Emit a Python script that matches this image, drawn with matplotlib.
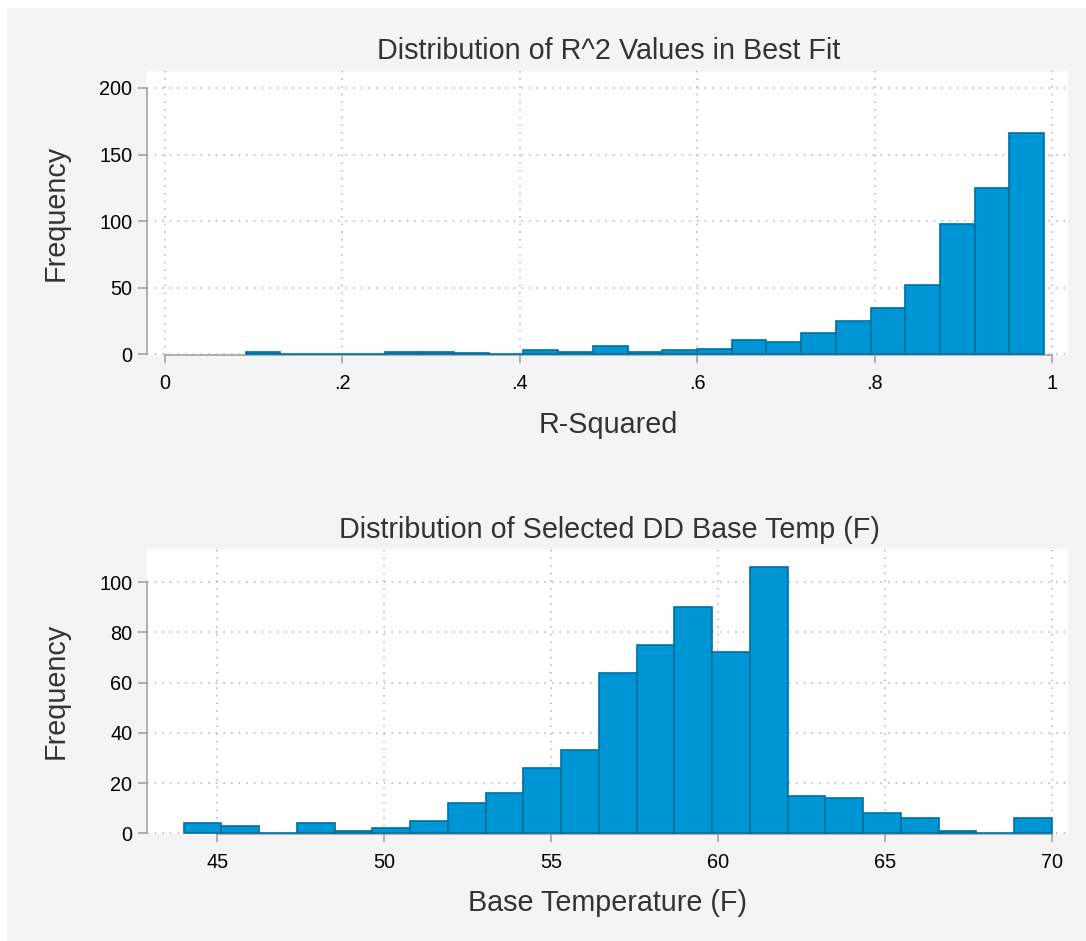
import numpy as np
import matplotlib
matplotlib.use("Agg")
from matplotlib import pyplot as plt
from matplotlib.patches import Rectangle

# R-squared histogram: 23 bins between min and max of the data
r2_min, r2_max = 0.091, 0.991
r2_counts = [2, 0, 0, 0, 2, 2, 1, 0, 3, 2, 6, 2, 3, 4, 11, 9, 16, 25, 35, 52, 98, 125, 166]
r2_ticks = [0, 0.2, 0.4, 0.6, 0.8, 1.0]
r2_ticklabels = ["0", ".2", ".4", ".6", ".8", "1"]
r2_yticks = [0, 50, 100, 150, 200]

# base temperature histogram: 23 bins from 44 to 70
bt_min, bt_max = 44, 70
bt_counts = [4, 3, 0, 4, 1, 2, 5, 12, 16, 26, 33, 64, 75, 90, 72, 106, 15, 14, 8, 6, 1, 0, 6]
bt_ticks = [45, 50, 55, 60, 65, 70]
bt_yticks = [0, 20, 40, 60, 80, 100]

W, H = 1086, 941
BAR = "#0096d6"
EDGE = "#006f9e"
AXIS = "#a3a3a3"
TXT = "#333333"
FS = 20.7

plt.rcParams["font.family"] = ["Liberation Sans", "DejaVu Sans"]

fig = plt.figure(figsize=(W / 100, H / 100), dpi=100, facecolor="white")
fig.patches.append(Rectangle((7 / W, 0), 1, 1 - 8 / H, transform=fig.transFigure,
                             facecolor="#f4f4f4", edgecolor="none", zorder=-10))


def px(x, y):
    return x / W, 1 - y / H


def hist_panel(top, bottom, vmin, vmax, counts, xticks, xlabels, yticks, xlim, ylim):
    ax = fig.add_axes([147 / W, 1 - bottom / H, (1068 - 147) / W, (bottom - top) / H])
    ax.set_facecolor("white")
    edges = np.linspace(vmin, vmax, len(counts) + 1)
    ax.bar(edges[:-1], counts, width=np.diff(edges), align="edge",
           color=BAR, edgecolor=EDGE, linewidth=1.2, zorder=3)
    ax.set_xlim(*xlim)
    ax.set_ylim(*ylim)
    ax.set_xticks(xticks)
    ax.set_xticklabels(xlabels)
    ax.set_yticks(yticks)
    ax.grid(True, color="#b0b0b0", linestyle=(0, (1, 4)), linewidth=1.1)
    ax.set_axisbelow(True)
    for s in ["top", "right"]:
        ax.spines[s].set_visible(False)
    for s in ["left", "bottom"]:
        ax.spines[s].set_color(AXIS)
        ax.spines[s].set_linewidth(1.2)
    ax.spines["left"].set_bounds(yticks[0], yticks[-1])
    ax.spines["bottom"].set_bounds(xticks[0], xticks[-1])
    ax.tick_params(axis="y", length=6.5, width=1.2, color=AXIS, pad=4, labelsize=14.3, labelcolor="black")
    ax.tick_params(axis="x", length=6, width=1.2, color=AXIS, pad=8, labelsize=14.3, labelcolor="black")
    return ax


hist_panel(70.5, 355, r2_min, r2_max, r2_counts, r2_ticks, r2_ticklabels, r2_yticks,
           (-0.0203, 1.018), (-0.5, 213.1))
hist_panel(549.3, 833.5, bt_min, bt_max, bt_counts, bt_ticks, [str(t) for t in bt_ticks], bt_yticks,
           (42.9, 70.48), (-0.1, 113.1))

# titles and axis titles
fig.text(*px(609, 59.3), "Distribution of R^2 Values in Best Fit", ha="center", va="baseline",
         fontsize=FS, color=TXT)
fig.text(*px(609, 538), "Distribution of Selected DD Base Temp (F)", ha="center", va="baseline",
         fontsize=FS, color=TXT)
fig.text(*px(608, 432.7), "R-Squared", ha="center", va="baseline", fontsize=FS, color=TXT)
fig.text(*px(608, 910.7), "Base Temperature (F)", ha="center", va="baseline", fontsize=FS, color=TXT)
fig.text(*px(56, 212.7), "Frequency", ha="center", va="center", rotation=90, fontsize=FS, color=TXT)
fig.text(*px(56, 691), "Frequency", ha="center", va="center", rotation=90, fontsize=FS, color=TXT)

plt.savefig("out.png", dpi=100, facecolor=fig.get_facecolor())
